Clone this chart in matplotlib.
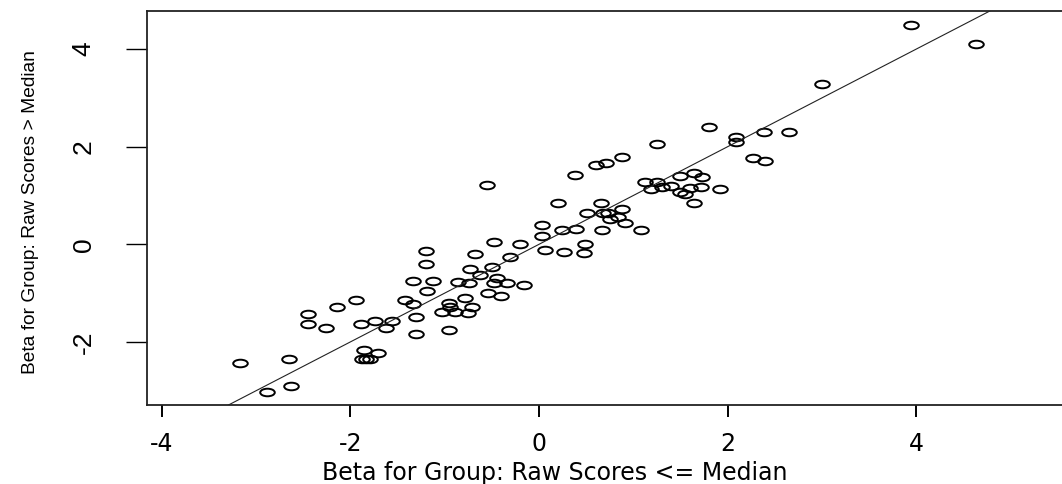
import numpy as np
import matplotlib
matplotlib.use("Agg")
import matplotlib.pyplot as plt
from matplotlib.path import Path
from matplotlib.transforms import Affine2D

# beta estimates, group "raw scores <= median" (x) vs "> median" (y)
beta_low = [
    -3.17, -2.65, -2.88, -2.63, -2.45, -2.45, -2.26, -2.14, -1.94, -1.89,
    -1.74, -1.62, -1.56, -1.86, -1.71, -1.88, -1.83, -1.79, -1.30, -1.30,
    -1.42, -1.34, -1.34, -1.12, -1.19, -1.20, -1.20, -0.95, -0.95, -0.78,
    -0.71, -1.03, -0.89, -0.75, -0.94, 0.03, 0.03, 0.06, -0.48, -0.20,
    -0.68, -0.31, -0.73, -0.50, -0.63, -0.45, -0.86, -0.74, -0.48, -0.34,
    -0.16, -0.54, -0.40, 0.26, 0.49, 0.48, 0.24, 0.39, 0.67, 1.08,
    0.20, 0.66, 0.51, 0.68, 0.73, 0.88, 0.75, 0.84, 0.91, 0.38,
    -0.55, 0.60, 0.71, 0.88, 1.25, 1.80, 2.09, 2.09, 2.39, 2.65,
    2.27, 2.40, 1.12, 1.25, 1.19, 1.30, 1.40, 1.50, 1.64, 1.73,
    1.60, 1.72, 1.49, 1.55, 1.92, 1.64, 3.00, 3.94, 4.63,
]
beta_high = [
    -2.43, -2.36, -3.03, -2.90, -1.42, -1.64, -1.72, -1.29, -1.14, -1.64,
    -1.57, -1.71, -1.57, -2.16, -2.23, -2.36, -2.36, -2.36, -1.84, -1.48,
    -1.14, -1.22, -0.75, -0.75, -0.95, -0.40, -0.13, -1.76, -1.20, -1.11,
    -1.29, -1.39, -1.39, -1.41, -1.29, 0.40, 0.18, -0.12, 0.04, 0.01,
    -0.20, -0.27, -0.51, -0.46, -0.63, -0.70, -0.78, -0.80, -0.80, -0.80,
    -0.83, -0.99, -1.05, -0.15, 0.01, -0.18, 0.29, 0.32, 0.29, 0.29,
    0.84, 0.84, 0.64, 0.65, 0.64, 0.72, 0.51, 0.55, 0.44, 1.43,
    1.21, 1.63, 1.66, 1.78, 2.05, 2.40, 2.19, 2.10, 2.30, 2.30,
    1.76, 1.71, 1.28, 1.28, 1.13, 1.17, 1.19, 1.40, 1.47, 1.37,
    1.15, 1.18, 1.08, 1.04, 1.13, 0.84, 3.29, 4.49, 4.11,
]
x_ticks = [-4, -2, 0, 2, 4]
y_ticks = [-2, 0, 2, 4]

x = np.asarray(beta_low, dtype=float)
y = np.asarray(beta_high, dtype=float)

W, H = 1062, 484
fig = plt.figure(figsize=(W / 100, H / 100), dpi=100)
# plot region in pixels: left 147, top 11, bottom 405, right side cut off
ax = fig.add_axes([147 / W, 1 - 405 / H, 1 - 147 / W + 0.01, (405 - 11) / H])

# R pch=1 circle, squashed like the reference
oval = Path.unit_circle().transformed(Affine2D().scale(1.0, 0.52))
ax.plot(x, y, linestyle="none", marker=oval, markersize=10.5,
        markerfacecolor="none", markeredgecolor="black", markeredgewidth=1.4)

# identity line
ax.axline((0, 0), slope=1, color="#222222", lw=0.8)

ax.set_xlim(-4.157, 5.546 + 0.01 * (5.546 + 4.157) / (1 - 147 / W))
ax.set_ylim(-3.293, 4.781)

for side in ("top", "left", "bottom"):
    ax.spines[side].set_linewidth(1.3)
    ax.spines[side].set_color("#222222")
ax.spines["right"].set_visible(False)

ax.set_xticks(x_ticks)
ax.set_yticks(y_ticks)
ax.set_xticklabels([str(v) for v in x_ticks])
ax.set_yticklabels([str(v) for v in y_ticks], rotation=90, va="center")
ax.tick_params(axis="x", direction="out", length=8.6, width=1.4, pad=11,
               labelsize=17)
ax.tick_params(axis="y", direction="out", length=15, width=1.0, pad=22,
               labelsize=19)
for lab in ax.get_yticklabels():
    lab.set_family("Liberation Sans")
for lab in ax.get_xticklabels():
    lab.set_family("DejaVu Sans")

ax.set_xlabel("Beta for Group: Raw Scores <= Median", fontsize=17,
              family="DejaVu Sans")
ax.xaxis.set_label_coords((554.5 - 147) / (W * ax.get_position().width), -0.143)
ax.set_ylabel("Beta for Group: Raw Scores > Median", fontsize=13.8,
              family="Liberation Sans")
ax.yaxis.set_label_coords((39 - 147) / (W * ax.get_position().width), 0.49)

fig.savefig("out.png", dpi=100)
plt.close(fig)
